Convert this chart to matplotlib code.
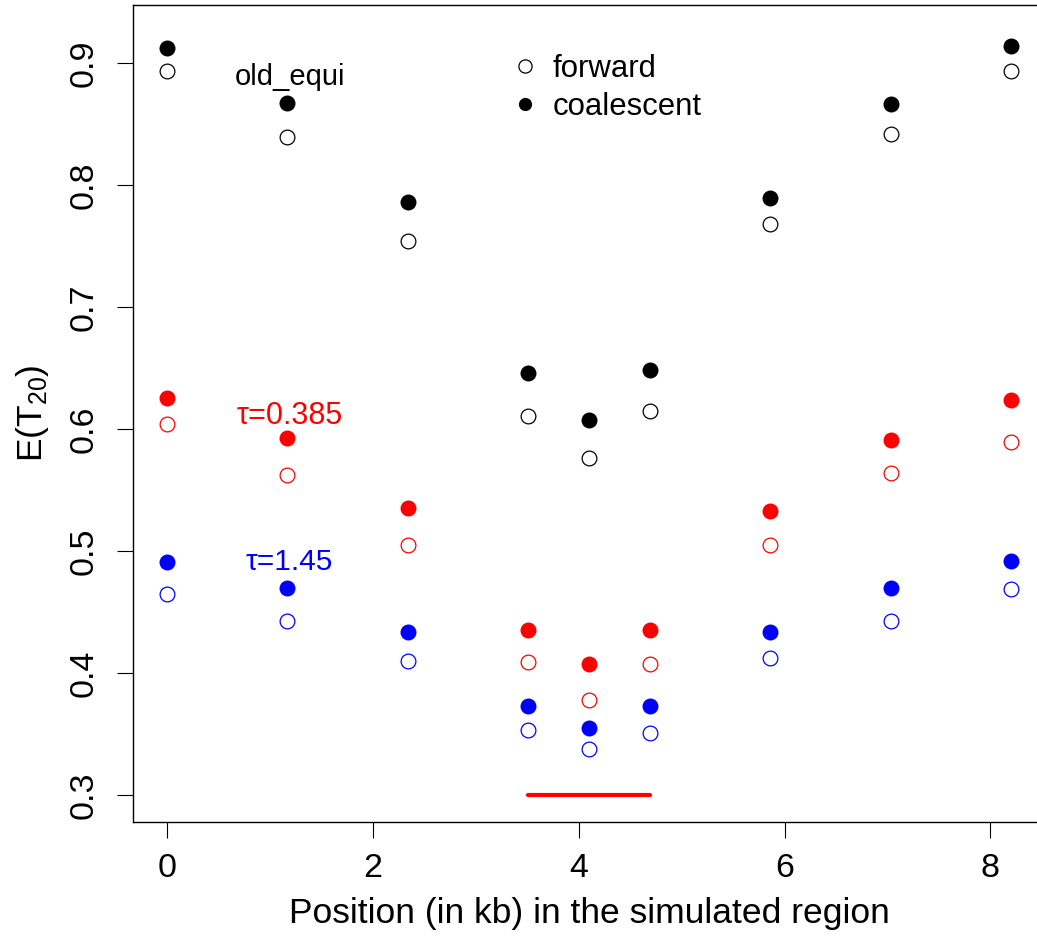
import matplotlib
matplotlib.use("Agg")
import matplotlib.pyplot as plt
from matplotlib.lines import Line2D

plt.rcParams["font.family"] = ["Liberation Sans", "DejaVu Sans"]
plt.rcParams["mathtext.fontset"] = "custom"
plt.rcParams["mathtext.rm"] = "Liberation Sans"
plt.rcParams["mathtext.default"] = "regular"

# positions (kb) and expected T20 for each scenario
pos = [0.0, 1.17, 2.34, 3.51, 4.10, 4.69, 5.86, 7.03, 8.20]

equi_coal = [0.912, 0.867, 0.786, 0.646, 0.607, 0.648, 0.789, 0.866, 0.914]
equi_fwd  = [0.893, 0.839, 0.754, 0.611, 0.576, 0.615, 0.768, 0.842, 0.893]
t385_coal = [0.625, 0.593, 0.535, 0.435, 0.407, 0.435, 0.533, 0.591, 0.624]
t385_fwd  = [0.604, 0.562, 0.505, 0.409, 0.378, 0.407, 0.505, 0.564, 0.589]
t145_coal = [0.491, 0.470, 0.434, 0.373, 0.355, 0.373, 0.434, 0.470, 0.492]
t145_fwd  = [0.465, 0.443, 0.410, 0.353, 0.338, 0.351, 0.412, 0.443, 0.469]

# selected region
sel_x = [3.51, 4.69]
sel_y = [0.3, 0.3]

fig = plt.figure(figsize=(10.37, 9.42), dpi=100)
ax = fig.add_axes([0.12825, 0.12739, 0.87946, 0.86730])

series = [
    (equi_coal, equi_fwd, "black"),
    (t385_coal, t385_fwd, "#FF0000"),
    (t145_coal, t145_fwd, "#0000FF"),
]
for coal, fwd, col in series:
    ax.plot(pos, fwd, ls="none", marker="o", ms=10.6, mfc="white", mec=col, mew=0.9)
    ax.plot(pos, coal, ls="none", marker="o", ms=11.5, mfc=col, mec=col, mew=0)

ax.plot(sel_x, sel_y, color="#FF0000", lw=3, solid_capstyle="round")

ax.text(1.20, 0.8885, "old_equi", fontsize=21, ha="center", va="center")
ax.text(1.19, 0.611, "\u03c4=0.385", fontsize=22, ha="center", va="center", color="#FF0000")
ax.text(1.19, 0.491, "\u03c4=1.45", fontsize=21.5, ha="center", va="center", color="#0000FF")

handles = [
    Line2D([], [], ls="none", marker="o", ms=9.5, mfc="white", mec="black", mew=0.9),
    Line2D([], [], ls="none", marker="o", ms=9.5, mfc="black", mec="black", mew=0),
]
ax.legend(handles, ["forward", "coalescent"], loc="upper left",
          bbox_to_anchor=(0.4178, 0.940), frameon=False, fontsize=22.4,
          borderpad=0, borderaxespad=0, handlelength=0.7, handletextpad=0.55,
          labelspacing=0.26)

ax.set_xlim(-0.330, 8.53)
ax.set_ylim(0.2779, 0.9475)
ax.set_xticks([0, 2, 4, 6, 8])
ax.set_yticks([0.3, 0.4, 0.5, 0.6, 0.7, 0.8, 0.9])
ax.set_yticklabels(["0.3", "0.4", "0.5", "0.6", "0.7", "0.8", "0.9"])
ax.tick_params(length=11.5, width=0.8, labelsize=24.5)
ax.tick_params(axis="x", pad=10.5)
ax.tick_params(axis="y", labelrotation=90, pad=12.5)
for lab in ax.get_yticklabels():
    lab.set_va("center")

for sp in ax.spines.values():
    sp.set_linewidth(1.0)

ax.set_xlabel("Position (in kb) in the simulated region", fontsize=25.5, labelpad=10)
ax.set_ylabel("E(T$_{20}$)", fontsize=25.5, labelpad=13)

fig.savefig("out.png", dpi=100)
